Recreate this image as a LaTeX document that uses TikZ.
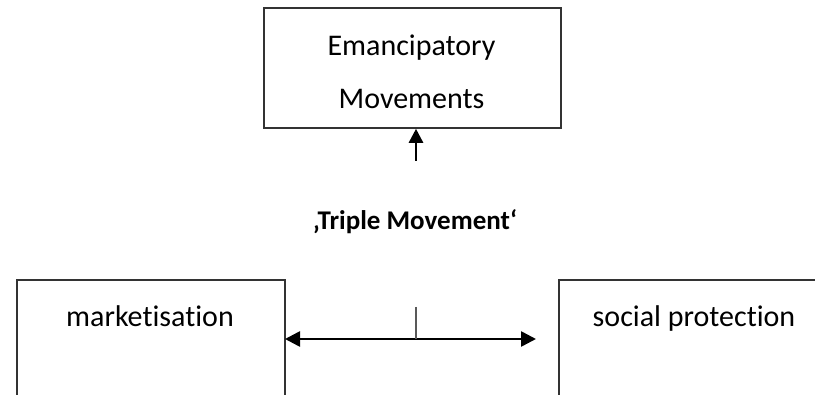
\documentclass[tikz,border=0pt]{standalone}
\usepackage{fontspec}
\setmainfont{Carlito}[Ligatures={NoCommon}]
\usetikzlibrary{arrows.meta}
\begin{document}
\begin{tikzpicture}[x=1pt,y=-1pt,
  box/.style={draw=black!80, line width=1.8pt, inner sep=0pt, anchor=north west},
  lbl/.style={font=\fontsize{30}{53}\selectfont, text=black, inner sep=0pt},
  arr/.style={line width=2.6pt, black, -{Triangle[length=15pt,width=15pt]}},
  darr/.style={line width=2.6pt, black, {Triangle[length=15pt,width=15pt]}-{Triangle[length=15pt,width=15pt]}}
]
\useasboundingbox (0,0) rectangle (815,395);
\clip (0,0) rectangle (815,395);
% top box
\node[box, minimum width=297pt, minimum height=120pt] (em) at (263,7) {};
\node[lbl, align=center] (emt) at (411.5,72) {Emancipatory\\Movements};
\coordinate (up) at (416,161);
\draw[arr, -{Triangle[length=14pt,width=14pt]}] (up) -- (up |- em.south);
% title
\node[font=\fontsize{27}{30}\selectfont\bfseries, text=black, inner sep=0pt, anchor=base] (tm) at (415,230) {‚Triple Movement‘};
% bottom boxes
\node[box, minimum width=268pt, minimum height=200pt] (mk) at (16,279) {};
\node[lbl, anchor=base] (mkt) at (150,327) {marketisation};
\node[box, minimum width=280pt, minimum height=200pt] (sp) at (558,279) {};
\node[lbl, anchor=base] (spt) at (694,327) {social protection};
% double arrow
\coordinate (ml) at (285,339);
\coordinate (mr) at (536,339);
\draw[darr] (ml) -- (mr);
\coordinate (tk) at (416,307);
\draw[line width=1.5pt, black!65] (tk) -- (tk |- ml);
\end{tikzpicture}
\end{document}
